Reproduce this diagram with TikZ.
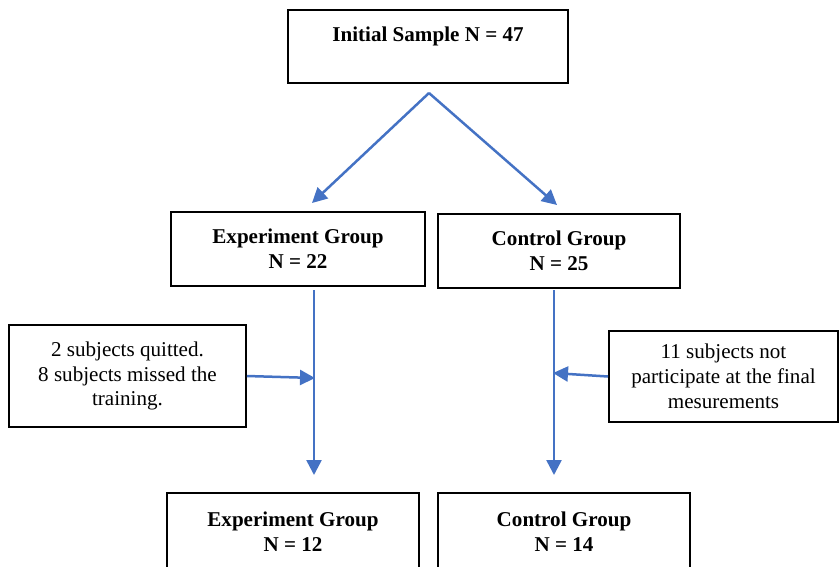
\documentclass[tikz,border=0pt]{standalone}
\usepackage{fontspec}
\setmainfont{Liberation Serif}
\usepackage{xcolor}
\usepackage{tikz}
\usetikzlibrary{arrows.meta,positioning}
\definecolor{flowblue}{HTML}{4472C4}

\begin{document}
\begin{tikzpicture}[x=0.02cm, y=-0.02cm,
    box/.style={draw, line width=0.4mm, inner sep=0pt, align=center,
        font=\fontsize{12}{14.2}\selectfont},
    head/.style={box, font=\fontsize{12}{14.2}\selectfont\bfseries},
    flow/.style={draw=flowblue, line width=0.5mm,
        -{Triangle[length=0.3cm, width=0.3cm]}}]
\clip (0,0) rectangle (839,566);

% boxes
\node[head, minimum width=5.6cm, text height=0.63cm, text depth=0.83cm]
    (init) at (428,46.5) {Initial Sample N = 47};
\node[head, minimum width=5.08cm, minimum height=1.48cm] (exp1) at (298,249)
    {Experiment Group\\N = 22};
\node[head, minimum width=4.84cm, minimum height=1.48cm] (ctrl1) at (559,251)
    {Control Group\\N = 25};
\node[box, minimum width=4.74cm, minimum height=2.04cm] (lostE) at (127.5,376)
    {2 subjects quitted.\\8 subjects missed the\\training.};
\node[box, minimum width=4.58cm, minimum height=1.82cm] (lostC) at (723.5,376.5)
    {11 subjects not\\participate at the final\\mesurements};
\node[head, minimum width=5.04cm, minimum height=1.54cm] (exp2) at (293,531.5)
    {Experiment Group\\N = 12};
\node[head, minimum width=5.04cm, minimum height=1.54cm] (ctrl2) at (564,531.5)
    {Control Group\\N = 14};

% arrow ends
\coordinate (split) at (429,93);
\coordinate (tipE) at (312,203);
\coordinate (tipC) at (557,205);
\coordinate (topE) at (314,290);
\coordinate (endE) at (314,475);
\coordinate (topC) at (554,290);
\coordinate (endC) at (554,475);

\draw[flow] (split) -- (tipE);
\draw[flow] (split) -- (tipC);
\draw[flow] (topE) -- (endE);
\draw[flow] (topC) -- (endC);
\draw[flow] (lostE.east) -- (315,378);
\draw[flow] (lostC.west) -- (553,373);
\end{tikzpicture}
\end{document}
